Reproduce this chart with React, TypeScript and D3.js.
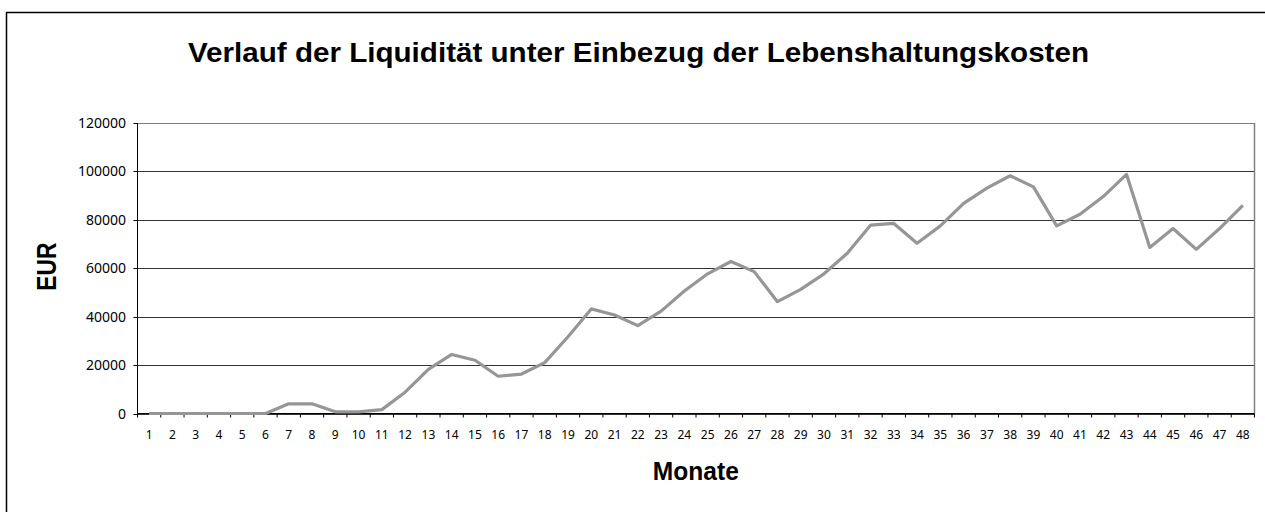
import * as d3 from 'd3';

// Monate (Kategorien)
const months = [
  '1', '2', '3', '4', '5', '6', '7', '8', '9', '10', '11', '12',
  '13', '14', '15', '16', '17', '18', '19', '20', '21', '22', '23', '24',
  '25', '26', '27', '28', '29', '30', '31', '32', '33', '34', '35', '36',
  '37', '38', '39', '40', '41', '42', '43', '44', '45', '46', '47', '48',
];

// Liquidität in EUR je Monat
const liquidity = [
  0, 0, 0, 0, 0, 0, 4000, 4000, 700, 700, 1600, 8800,
  18200, 24400, 22000, 15400, 16300, 21000, 31700, 43200, 40700, 36300, 42300, 50600,
  57700, 62800, 58600, 46200, 51300, 57700, 66200, 77800, 78500, 70300, 77500, 86800,
  93100, 98200, 93600, 77500, 82300, 89600, 98800, 68600, 76400, 67800, 76400, 86000,
];

const yTicks = [0, 20000, 40000, 60000, 80000, 100000, 120000];

const title = 'Verlauf der Liquidität unter Einbezug der Lebenshaltungskosten';
const yTitle = 'EUR';
const xTitle = 'Monate';

const tickFont = "'Noto Sans', Tahoma, sans-serif";
const titleFont = "'Liberation Sans', Arial, sans-serif";

export default function App() {
  const width = 1265;
  const height = 512;
  const plot = { left: 137.5, right: 1254.5, top: 123, bottom: 413.5 };

  const x = d3.scaleBand<string>()
    .domain(months)
    .range([plot.left, plot.right])
    .paddingInner(0)
    .paddingOuter(0);
  const bw = x.bandwidth();

  const y = d3.scaleLinear()
    .domain([0, 120000])
    .range([plot.bottom, plot.top]);

  const line = d3.line<number>()
    .x((_, i) => (x(months[i]) as number) + bw / 2)
    .y(d => y(d));

  // Tick-Positionen an den Kategoriegrenzen
  const xTickPos = months.map(m => x(m) as number).concat([plot.right]);

  return (
    <>
      <style>{'body{margin:0}'}</style>
      <svg width={width} height={height} style={{ display: 'block', background: '#fff' }}>
        {/* Diagrammrahmen */}
        <rect x={6.5} y={12.5} width={1400} height={600} fill="none" stroke="#000" strokeWidth={1.5} />

        <text
          x={638.5} y={61.5}
          textAnchor="middle"
          fontFamily={titleFont}
          fontWeight="bold"
          fontSize={27.5}
          textLength={901}
          lengthAdjust="spacingAndGlyphs"
        >{title}</text>

        {/* Gitternetz */}
        {yTicks.map(t => (
          <line key={'g' + t}
            x1={plot.left} x2={plot.right}
            y1={Math.round(y(t)) + 0.5} y2={Math.round(y(t)) + 0.5}
            stroke={t === 120000 ? '#808080' : '#333'} strokeWidth={1} />
        ))}
        {/* rechter Rand der Zeichenfläche */}
        <line x1={plot.right} x2={plot.right} y1={plot.top} y2={plot.bottom} stroke="#808080" strokeWidth={1.5} />

        {/* Y-Achse */}
        <line x1={plot.left} x2={plot.left} y1={plot.top} y2={plot.bottom} stroke="#000" strokeWidth={1} />
        {yTicks.map(t => (
          <g key={'y' + t}>
            <line x1={plot.left - 4} x2={plot.left} y1={Math.round(y(t)) + 0.5} y2={Math.round(y(t)) + 0.5} stroke="#000" />
            <text x={126} y={y(t) + 5} textAnchor="end"
              fontFamily={tickFont} fontSize={14} fill="#000">{t}</text>
          </g>
        ))}

        {/* X-Achse */}
        <line x1={plot.left} x2={plot.right} y1={plot.bottom} y2={plot.bottom} stroke="#000" strokeWidth={1} />
        {xTickPos.map((p, i) => (
          <line key={'xt' + i} x1={p} x2={p} y1={plot.bottom} y2={plot.bottom + 4} stroke="#000" />
        ))}
        {months.map(m => (
          <text key={'xl' + m} x={(x(m) as number) + bw / 2} y={438.5} textAnchor="middle"
            fontFamily={tickFont} fontSize={12} fill="#000">{m}</text>
        ))}

        {/* Datenlinie */}
        <path d={line(liquidity) ?? ''} fill="none" stroke="#969696" strokeWidth={3.2} strokeLinejoin="round" />

        {/* Achsentitel */}
        <text
          transform="translate(56,266.7) rotate(-90)"
          textAnchor="middle"
          fontFamily={titleFont}
          fontWeight="bold"
          fontSize={27}
          textLength={48}
          lengthAdjust="spacingAndGlyphs"
        >{yTitle}</text>
        <text
          x={695.8} y={480}
          textAnchor="middle"
          fontFamily={titleFont}
          fontWeight="bold"
          fontSize={25}
          textLength={86}
          lengthAdjust="spacingAndGlyphs"
        >{xTitle}</text>
      </svg>
    </>
  );
}
